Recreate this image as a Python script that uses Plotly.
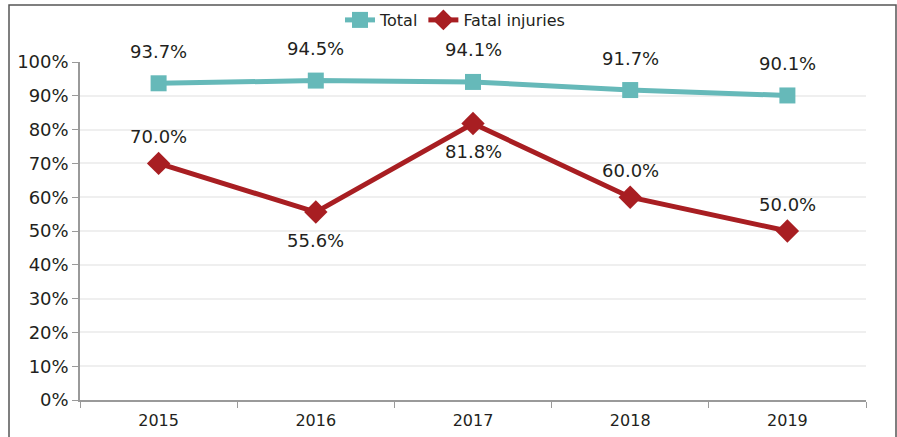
import plotly.graph_objects as go

years = ["2015", "2016", "2017", "2018", "2019"]
total = [93.7, 94.5, 94.1, 91.7, 90.1]
fatal = [70.0, 55.6, 81.8, 60.0, 50.0]
fatal_above = [True, False, False, True, True]
y_ticks = [0, 10, 20, 30, 40, 50, 60, 70, 80, 90, 100]
y_labels = [f"{v}%" for v in y_ticks]

W, H = 897, 437
L, R, T, B = 80, 31, 62, 37
pw, ph = W - L - R, H - T - B

teal = "#66b9b9"
red = "#a81e22"
txt = "#231f20"
font = "DejaVu Sans"

fig = go.Figure()
fig.add_trace(go.Scatter(
    x=years, y=total, name="Total", mode="lines+markers",
    line=dict(color=teal, width=5),
    marker=dict(symbol="square", size=16, color=teal),
    cliponaxis=False,
))
fig.add_trace(go.Scatter(
    x=years, y=fatal, name="Fatal injuries", mode="lines+markers",
    line=dict(color=red, width=5),
    marker=dict(symbol="diamond", size=18, color=red),
    cliponaxis=False,
))

annotations = []
for i, v in enumerate(total):
    annotations.append(dict(x=i, y=v, xref="x", yref="y", text=f"{v:.1f}%",
                            showarrow=False, yshift=32,
                            font=dict(size=18, color=txt, family=font)))
for i, (v, up) in enumerate(zip(fatal, fatal_above)):
    annotations.append(dict(x=i, y=v, xref="x", yref="y", text=f"{v:.1f}%",
                            showarrow=False, yshift=27 if up else -28,
                            font=dict(size=18, color=txt, family=font)))

def px_x(x):
    return (x - L) / pw

def px_y(y):
    return (H - B - y) / ph

fig.update_layout(
    width=W, height=H,
    margin=dict(l=L, r=R, t=T, b=B, pad=0, autoexpand=False),
    paper_bgcolor="white", plot_bgcolor="white",
    font=dict(family=font, size=16, color=txt),
    showlegend=True,
    legend=dict(orientation="h", x=px_x(455), xanchor="center", y=px_y(20), yanchor="middle",
                font=dict(size=16, color=txt, family=font),
                bgcolor="rgba(0,0,0,0)", traceorder="normal"),
    annotations=annotations,
    shapes=[dict(type="rect", xref="paper", yref="paper",
                 x0=px_x(9), x1=px_x(896), y0=px_y(450), y1=px_y(5),
                 line=dict(color="#555555", width=1.5), layer="above")],
)
fig.update_xaxes(
    type="category", categoryorder="array", categoryarray=years,
    range=[-0.5, len(years) - 0.5], autorange=False,
    tickson="boundaries", ticks="outside", ticklen=6,
    tickcolor="#9a9a9a", showline=True, linecolor="#9a9a9a", linewidth=2,
    showgrid=False, tickfont=dict(size=16, color=txt, family=font),
    ticklabelstandoff=5,
)
fig.update_yaxes(
    range=[0, 100], autorange=False, tickvals=y_ticks, ticktext=y_labels, ticks="outside", ticklen=6,
    tickcolor="#9a9a9a", showline=True, linecolor="#9a9a9a", linewidth=1.5,
    showgrid=True, gridcolor="#efefef", gridwidth=1.5, zeroline=False,
    tickfont=dict(size=18, color=txt, family=font),
)
fig.write_html("out.html", config={"displayModeBar": False},
               post_script="document.body.style.margin='0';")
